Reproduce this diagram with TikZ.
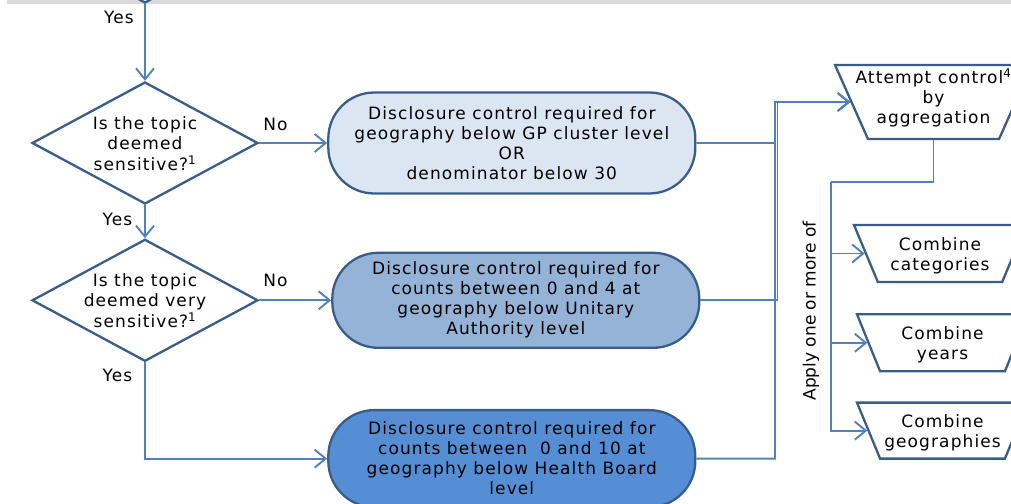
\documentclass[tikz,border=0pt]{standalone}
\usepackage{fontspec}
\setmainfont{DejaVu Sans}[LetterSpace=6.5]
\newfontfamily\plainfont{DejaVu Sans}
\usetikzlibrary{arrows.meta,positioning,shapes.geometric}
\definecolor{edgeblue}{RGB}{56,93,138}
\definecolor{lineblue}{RGB}{79,129,189}
\definecolor{paleblue}{RGB}{220,230,242}
\definecolor{midblue}{RGB}{149,179,215}
\definecolor{deepblue}{RGB}{85,142,213}
\definecolor{bandgrey}{RGB}{217,217,217}
\newcommand{\stk}[2][-3pt]{\makebox[0pt]{\raisebox{#1}[\height][\depth]{\begin{tabular}{@{}c@{}}#2\end{tabular}}}}

\begin{document}
\begin{tikzpicture}[x=1pt,y=-1pt,>={Straight Barb[length=11pt,width=18pt]},
  every node/.style={font=\fontsize{17}{20}\selectfont,align=center},
  question/.style={diamond,draw=edgeblue,line width=2.3pt,fill=white,minimum width=226pt,minimum height=122pt,inner sep=0pt},
  outcome/.style={rectangle,rounded corners=46pt,draw=edgeblue,line width=2.3pt,minimum width=367pt,inner sep=0pt},
  method/.style={trapezium,shape border rotate=180,trapezium stretches body=true,draw=edgeblue,line width=2.3pt,fill=white,inner sep=0pt},
  link/.style={draw=lineblue,line width=1.9pt}]
\useasboundingbox (0,0) rectangle (1011,503);
\fill[bandgrey] (7,0) rectangle (1011,4);
% questions
\node[question] (q0) at (145,-58) {};
\node[question] (q1) at (145,143) {\stk{Is the topic\\deemed\\sensitive?\textsuperscript{1}}};
\node[question,below=33pt of q1] (q2) {\stk{Is the topic\\deemed very\\sensitive?\textsuperscript{1}}};
% outcomes
\node[outcome,fill=paleblue,minimum height=101pt,right=68pt of q1] (t1) {Disclosure control required for\\geography below GP cluster level\\OR\\denominator below 30};
\node[outcome,fill=midblue,minimum height=95pt,right=72pt of q2] (t2) {Disclosure control required for\\counts between 0 and 4 at\\geography below Unitary\\Authority level};
\node[outcome,fill=deepblue,minimum height=97pt,below=60pt of t2,xshift=-4pt] (t3) {Disclosure control required for\\counts between~ 0 and 10 at\\geography below Health Board\\level};
% labels
\node (yes1) at (119,17.5) {Yes};
\node (no1) at (275.5,124) {No};
\node (yes2) at (117.5,219.5) {Yes};
\node (no2) at (275.5,280) {No};
\node (yes3) at (117.5,375) {Yes};
% aggregation
\node[method,trapezium angle=61.6,minimum width=197pt,minimum height=74pt] (agg) at (933.5,102) {\stk[3pt]{Attempt control\textsuperscript{4}\\by\\aggregation}};
\node[method,trapezium angle=59.2,minimum width=172pt,minimum height=57pt] (cat) at (940,253.5) {\stk{Combine\\categories}};
\node[method,trapezium angle=60,minimum width=171pt,minimum height=57pt,below=30pt of cat,xshift=2.5pt] (yrs) {\stk{Combine\\years}};
\node[method,trapezium angle=60,minimum width=171pt,minimum height=56pt,below=29pt of yrs] (geo) {\stk{Combine\\geographies}};
\node[rotate=90,font=\fontsize{17}{20}\plainfont] (apply) at (811,311) {Apply one or more of};
\coordinate (join) at (775,102);
\coordinate (join2) at (777.5,102);
\coordinate (split) at (831,182);
% connectors
\draw[link,->] (q0) -- (q1);
\draw[link,->] (q1) -- (t1);
\draw[link,->] (q1) -- (q2);
\draw[link,->] (q2) -- (t2);
\draw[link,->] (q2) |- (t3);
\draw[link,->] (t1) -| (join) -- (agg);
\draw[link,->] (t2) -| (join2) -- (agg);
\draw[link,->] (t3) -| (join) -- (agg);
\draw[link] (agg) |- (split);
\draw[link,->] (split) |- (cat);
\draw[link,->] (split) |- (yrs);
\draw[link,->] (split) |- (geo);
\end{tikzpicture}
\end{document}
